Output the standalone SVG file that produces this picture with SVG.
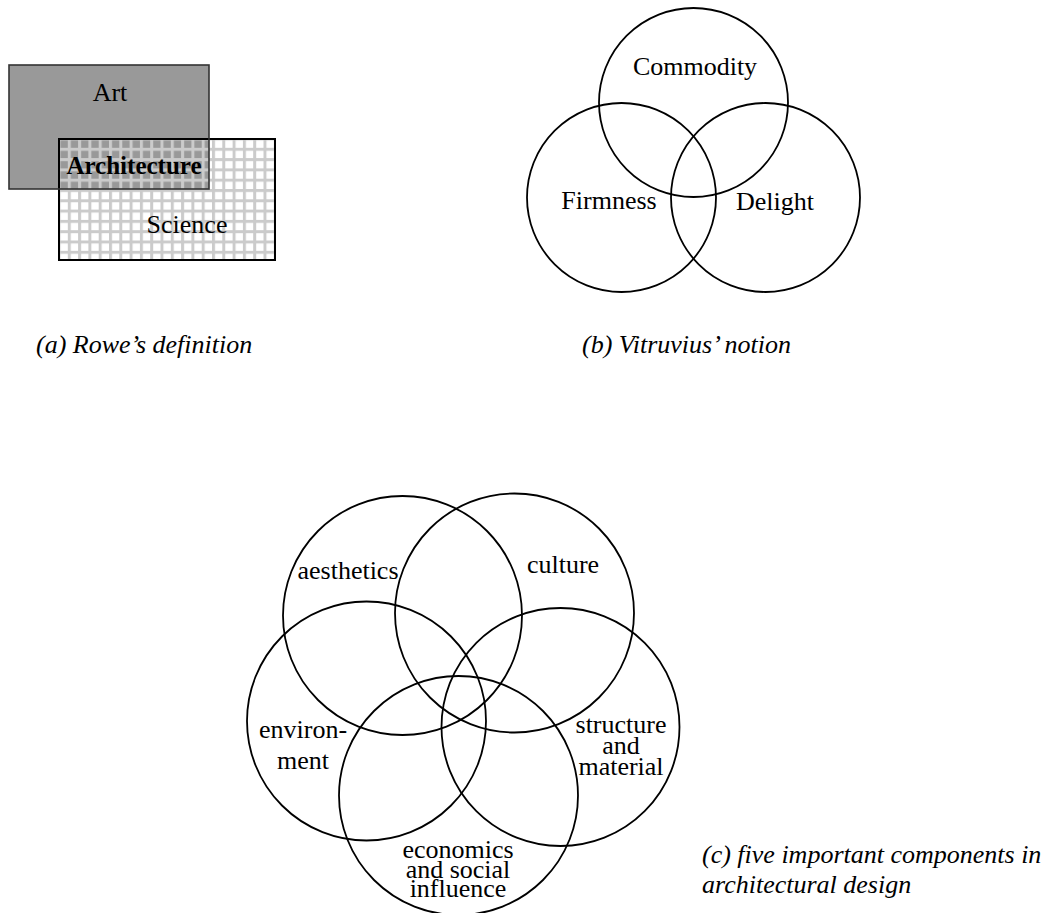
<svg xmlns="http://www.w3.org/2000/svg" width="1056" height="913" viewBox="0 0 1056 913">
<style>
text { font-family: "Liberation Serif", "Times New Roman", serif; font-size: 26px; fill: #000; }
.c { text-anchor: middle; }
.cap { font-style: italic; }
.b { font-weight: bold; font-size: 25px; }
.ring { fill: none; stroke: #000; stroke-width: 1.8; }
</style>
<defs>
<pattern id="grid" patternUnits="userSpaceOnUse" x="57.5" y="137.5" width="10.3" height="10.3">
<rect x="0" y="0" width="10.3" height="3" fill="#cbcbcb"/>
<rect x="0" y="0" width="3" height="10.3" fill="#cbcbcb"/>
</pattern>
</defs>
<rect width="1056" height="913" fill="#fff"/>

<g id="rowe">
<g id="art-fill"><rect x="9" y="65" width="200" height="124" fill="#999"/></g>
<g id="science">
<rect x="59" y="139" width="216" height="121" fill="url(#grid)"/>
<rect x="59" y="139" width="216" height="121" fill="none" stroke="#000" stroke-width="2"/>
<text class="c" x="187" y="233">Science</text>
</g>
<g id="art">
<rect x="9" y="65" width="200" height="124" fill="none" stroke="#333" stroke-width="1.6"/>
<text class="c" x="110" y="101">Art</text>
</g>
<g id="architecture"><text class="c b" x="134" y="174">Architecture</text></g>
</g>

<g id="vitruvius">
<g id="commodity"><circle class="ring" cx="693.5" cy="102.5" r="94.5"/><text class="c" x="695" y="75">Commodity</text></g>
<g id="firmness"><circle class="ring" cx="621.5" cy="197.5" r="94.5"/><text class="c" x="609" y="209">Firmness</text></g>
<g id="delight"><circle class="ring" cx="765.5" cy="197.5" r="94.5"/><text class="c" x="775" y="210">Delight</text></g>
</g>

<g id="five">
<g id="aesthetics"><circle class="ring" cx="402.5" cy="615.5" r="119.5"/><text class="c" x="348" y="579">aesthetics</text></g>
<g id="culture"><circle class="ring" cx="514.5" cy="613" r="119.5"/><text class="c" x="563" y="573">culture</text></g>
<g id="environment"><circle class="ring" cx="366.5" cy="721" r="119.5"/><text class="c" x="303" y="738">environ-</text><text class="c" x="303" y="769">ment</text></g>
<g id="structure"><circle class="ring" cx="560.5" cy="727" r="119"/><text class="c" x="621" y="733">structure</text><text class="c" x="621" y="754">and</text><text class="c" x="621" y="775">material</text></g>
<g id="economics"><circle class="ring" cx="458.5" cy="795.5" r="119.5"/><text class="c" x="458" y="858">economics</text><text class="c" x="458" y="878">and social</text><text class="c" x="458" y="897">influence</text></g>
</g>

<g id="captions">
<text class="cap" x="36" y="353">(a) Rowe’s definition</text>
<text class="cap" x="582" y="353">(b) Vitruvius’ notion</text>
<text class="cap" x="702" y="863">(c) five important components in</text>
<text class="cap" x="702" y="893">architectural design</text>
</g>
</svg>
